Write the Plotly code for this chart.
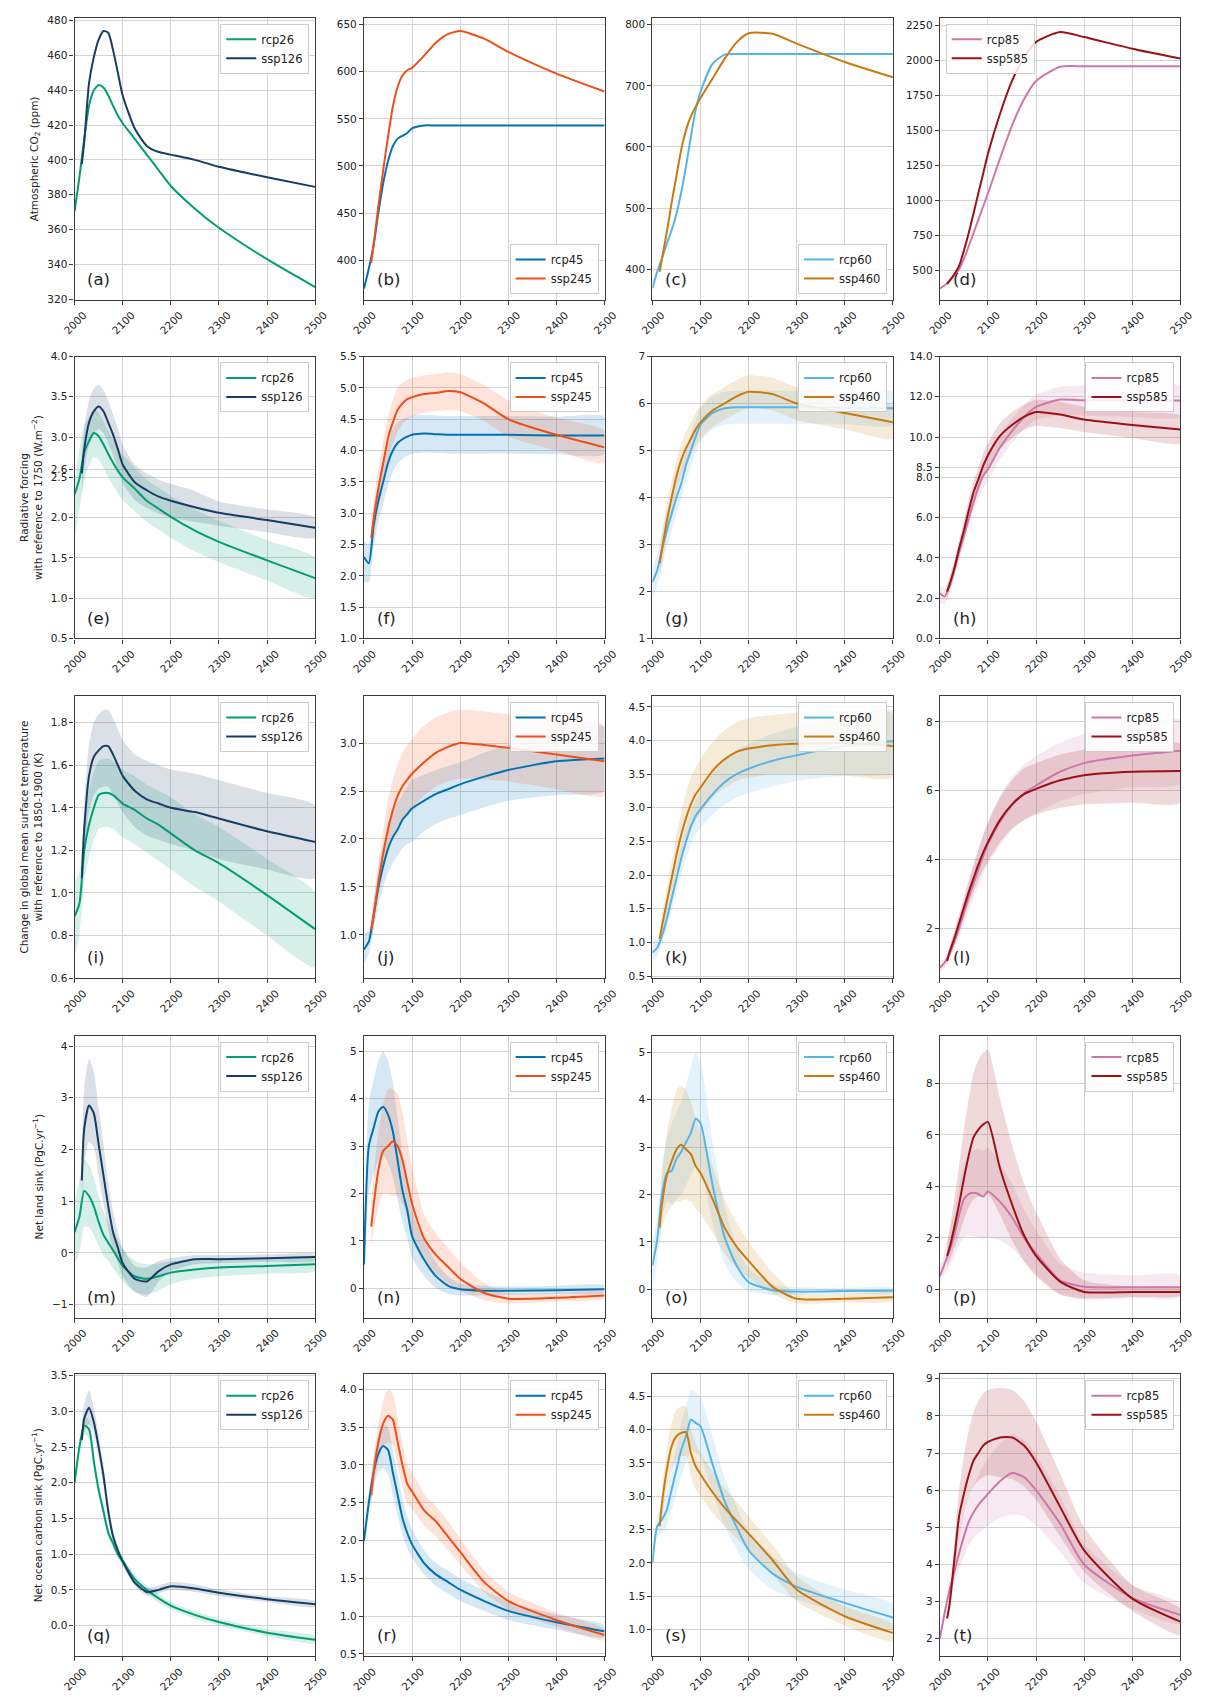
import plotly.graph_objects as go

# ---------------- time grids ----------------
YEARS = [2000, 2010, 2020, 2030, 2040, 2050, 2060, 2070, 2080, 2090, 2100,
         2125, 2150, 2175, 2200, 2250, 2300, 2400, 2500]
SSP_YEARS = [2015, 2020, 2030, 2040, 2050, 2060, 2070, 2080, 2090, 2100,
             2125, 2150, 2175, 2200, 2250, 2300, 2400, 2500]
X_TICKS = [2000, 2100, 2200, 2300, 2400, 2500]

# ---------------- row 1: atmospheric CO2 (ppm) ----------------
CO2_RCP26 = [370.5, 390, 412, 431, 440, 443, 441.5, 437, 431, 425.5, 421, 412, 403, 394, 385, 372, 361, 343, 327]
CO2_SSP126 = [397.5, 410, 444, 459, 469, 474, 473, 463, 450, 437, 418, 408, 404.5, 403, 400, 396, 390, 384.5]
CO2_RCP45 = [370, 391, 416, 451, 482, 505, 521, 529, 532, 535, 540, 543, 543, 543, 543, 543, 543, 543, 543]
CO2_SSP245 = [397, 416, 458, 496, 531, 563, 584, 596, 601.5, 604, 617, 631, 640, 643, 635, 621, 598, 579]
CO2_RCP60 = [369, 396, 418, 442, 464, 491, 526, 569, 617, 661, 690, 736, 751, 752, 752, 752, 752, 752, 752]
CO2_SSP460 = [396, 418, 461, 509, 553, 596, 628, 650, 666, 680, 712, 744, 771, 786, 785, 769, 739, 714]
CO2_RCP85 = [369, 392, 423, 460, 506, 580, 671, 765, 860, 955, 1050, 1298, 1534, 1723, 1853, 1955, 1958, 1958, 1958]
CO2_SSP585 = [400, 423, 470, 530, 640, 766, 905, 1050, 1190, 1333, 1617, 1853, 2019, 2132, 2203, 2167, 2084, 2014]

# ---------------- row 2: radiative forcing (W m-2) ----------------
RF_RCP26 = [2.29, 2.48, 2.81, 2.95, 3.05, 3.01, 2.91, 2.79, 2.68, 2.58, 2.50, 2.36, 2.21, 2.11, 2.01, 1.84, 1.70, 1.47, 1.25]
RF_RCP26_LO = [1.75, 2.1, 2.45, 2.65, 2.75, 2.72, 2.62, 2.5, 2.4, 2.3, 2.22, 2.08, 1.95, 1.85, 1.75, 1.58, 1.45, 1.22, 1.0]
RF_RCP26_HI = [2.45, 2.85, 3.15, 3.25, 3.35, 3.3, 3.2, 3.08, 2.97, 2.86, 2.78, 2.62, 2.47, 2.37, 2.27, 2.1, 1.96, 1.72, 1.5]
RF_SSP126 = [2.55, 2.85, 3.18, 3.32, 3.38, 3.32, 3.18, 3.03, 2.85, 2.66, 2.44, 2.34, 2.26, 2.21, 2.13, 2.06, 1.97, 1.875]
RF_SSP126_LO = [2.3, 2.6, 2.9, 3.05, 3.1, 3.05, 2.92, 2.78, 2.6, 2.43, 2.22, 2.12, 2.05, 2.0, 1.95, 1.9, 1.82, 1.75]
RF_SSP126_HI = [2.8, 3.1, 3.45, 3.6, 3.65, 3.58, 3.45, 3.28, 3.1, 2.9, 2.66, 2.55, 2.47, 2.42, 2.33, 2.2, 2.1, 2.0]
RF_RCP45 = [2.3, 2.2, 2.8, 3.2, 3.5, 3.8, 4.0, 4.12, 4.18, 4.22, 4.25, 4.27, 4.26, 4.25, 4.25, 4.25, 4.25, 4.24, 4.24]
RF_RCP45_LO = [1.9, 1.9, 2.45, 2.85, 3.15, 3.45, 3.65, 3.8, 3.87, 3.92, 3.95, 3.97, 3.96, 3.95, 3.95, 3.95, 3.95, 3.94, 3.94]
RF_RCP45_HI = [2.55, 2.5, 3.1, 3.5, 3.85, 4.15, 4.35, 4.45, 4.5, 4.53, 4.56, 4.57, 4.56, 4.55, 4.55, 4.55, 4.55, 4.54, 4.54]
RF_SSP245 = [2.6, 2.9, 3.4, 3.8, 4.2, 4.45, 4.65, 4.75, 4.82, 4.85, 4.9, 4.92, 4.95, 4.93, 4.75, 4.5, 4.25, 4.05]
RF_SSP245_LO = [2.35, 2.6, 3.05, 3.45, 3.85, 4.1, 4.3, 4.42, 4.5, 4.55, 4.6, 4.63, 4.65, 4.63, 4.47, 4.22, 4.0, 3.8]
RF_SSP245_HI = [2.85, 3.2, 3.7, 4.15, 4.55, 4.8, 5.0, 5.08, 5.13, 5.16, 5.2, 5.22, 5.25, 5.22, 5.04, 4.8, 4.52, 4.32]
RF_RCP60 = [2.2, 2.45, 2.9, 3.3, 3.65, 4.0, 4.3, 4.7, 5.0, 5.3, 5.55, 5.8, 5.9, 5.92, 5.92, 5.92, 5.92, 5.91, 5.9]
RF_RCP60_LO = [1.85, 2.1, 2.55, 2.95, 3.3, 3.65, 3.95, 4.35, 4.65, 4.95, 5.2, 5.45, 5.55, 5.57, 5.57, 5.57, 5.57, 5.56, 5.55]
RF_RCP60_HI = [2.55, 2.8, 3.25, 3.65, 4.0, 4.35, 4.65, 5.05, 5.35, 5.65, 5.9, 6.15, 6.25, 6.27, 6.27, 6.27, 6.27, 6.26, 6.25]
RF_SSP460 = [2.6, 2.9, 3.5, 4.0, 4.45, 4.8, 5.05, 5.25, 5.45, 5.6, 5.85, 6.0, 6.15, 6.25, 6.2, 6.0, 5.8, 5.6]
RF_SSP460_LO = [2.3, 2.55, 3.15, 3.65, 4.1, 4.45, 4.7, 4.9, 5.1, 5.25, 5.5, 5.65, 5.8, 5.9, 5.85, 5.65, 5.45, 5.25]
RF_SSP460_HI = [2.9, 3.25, 3.85, 4.35, 4.8, 5.15, 5.4, 5.6, 5.8, 5.95, 6.2, 6.35, 6.5, 6.6, 6.55, 6.35, 6.15, 5.95]
RF_RCP85 = [2.25, 2.08, 2.65, 3.39, 4.3, 5.1, 5.95, 6.76, 7.5, 8.08, 8.4, 9.48, 10.3, 11.0, 11.5, 11.86, 11.83, 11.82, 11.82]
RF_RCP85_LO = [1.8, 1.7, 2.3, 3.0, 3.9, 4.65, 5.45, 6.2, 6.9, 7.45, 7.8, 8.85, 9.7, 10.4, 10.85, 11.1, 11.05, 11.0, 11.0]
RF_RCP85_HI = [2.6, 2.5, 3.05, 3.8, 4.7, 5.55, 6.45, 7.3, 8.05, 8.7, 9.05, 10.1, 10.9, 11.6, 12.1, 12.5, 12.55, 12.55, 12.55]
RF_SSP585 = [2.33, 2.65, 3.47, 4.46, 5.36, 6.35, 7.26, 7.9, 8.57, 9.1, 10.06, 10.6, 11.0, 11.24, 11.12, 10.87, 10.6, 10.38]
RF_SSP585_LO = [2.0, 2.3, 3.1, 4.0, 4.85, 5.8, 6.65, 7.3, 7.95, 8.45, 9.4, 9.95, 10.35, 10.55, 10.45, 10.25, 9.95, 9.7]
RF_SSP585_HI = [2.65, 3.0, 3.85, 4.9, 5.85, 6.9, 7.85, 8.5, 9.2, 9.7, 10.7, 11.25, 11.6, 11.85, 11.75, 11.5, 11.25, 11.05]

# ---------------- row 3: temperature change (K) ----------------
T_RCP26 = [0.89, 0.95, 1.2, 1.32, 1.40, 1.46, 1.47, 1.47, 1.46, 1.44, 1.42, 1.39, 1.35, 1.32, 1.28, 1.2, 1.14, 0.99, 0.83]
T_RCP26_LO = [0.7, 0.8, 1.05, 1.17, 1.25, 1.3, 1.31, 1.31, 1.3, 1.28, 1.26, 1.23, 1.19, 1.15, 1.11, 1.03, 0.96, 0.8, 0.65]
T_RCP26_HI = [1.05, 1.1, 1.35, 1.48, 1.57, 1.62, 1.63, 1.63, 1.62, 1.6, 1.58, 1.55, 1.51, 1.48, 1.45, 1.37, 1.31, 1.16, 1.0]
T_SSP126 = [1.07, 1.3, 1.55, 1.64, 1.67, 1.69, 1.69, 1.65, 1.6, 1.55, 1.48, 1.44, 1.42, 1.40, 1.38, 1.35, 1.29, 1.24]
T_SSP126_LO = [0.95, 1.15, 1.38, 1.46, 1.49, 1.5, 1.5, 1.46, 1.42, 1.38, 1.31, 1.27, 1.25, 1.23, 1.2, 1.16, 1.11, 1.07]
T_SSP126_HI = [1.15, 1.42, 1.7, 1.8, 1.84, 1.86, 1.86, 1.82, 1.77, 1.72, 1.65, 1.62, 1.6, 1.58, 1.56, 1.53, 1.47, 1.41]
T_RCP45 = [0.85, 0.93, 1.2, 1.5, 1.72, 1.9, 2.02, 2.1, 2.2, 2.26, 2.32, 2.4, 2.47, 2.52, 2.57, 2.65, 2.72, 2.81, 2.84]
T_RCP45_LO = [0.7, 0.8, 1.05, 1.3, 1.5, 1.65, 1.75, 1.83, 1.9, 1.95, 1.97, 2.08, 2.16, 2.21, 2.25, 2.33, 2.4, 2.46, 2.5]
T_RCP45_HI = [1.0, 1.05, 1.35, 1.7, 1.95, 2.15, 2.28, 2.38, 2.46, 2.55, 2.62, 2.67, 2.72, 2.76, 2.8, 2.9, 2.98, 3.1, 3.17]
T_SSP245 = [1.05, 1.2, 1.55, 1.85, 2.1, 2.3, 2.45, 2.55, 2.62, 2.68, 2.8, 2.9, 2.96, 3.0, 2.98, 2.95, 2.88, 2.81]
T_SSP245_LO = [0.95, 1.08, 1.4, 1.65, 1.85, 2.0, 2.12, 2.2, 2.27, 2.32, 2.45, 2.55, 2.6, 2.63, 2.62, 2.6, 2.52, 2.45]
T_SSP245_HI = [1.15, 1.35, 1.75, 2.1, 2.4, 2.62, 2.78, 2.9, 2.98, 3.05, 3.18, 3.27, 3.32, 3.35, 3.33, 3.3, 3.25, 3.18]
T_RCP60 = [0.85, 0.92, 1.1, 1.35, 1.65, 1.95, 2.25, 2.5, 2.72, 2.88, 2.98, 3.2, 3.38, 3.5, 3.58, 3.7, 3.78, 3.92, 3.99]
T_RCP60_LO = [0.7, 0.8, 0.98, 1.2, 1.48, 1.75, 2.02, 2.25, 2.45, 2.6, 2.7, 2.9, 3.05, 3.15, 3.22, 3.32, 3.4, 3.48, 3.52]
T_RCP60_HI = [1.0, 1.05, 1.25, 1.5, 1.82, 2.15, 2.45, 2.72, 2.95, 3.12, 3.25, 3.5, 3.7, 3.85, 3.95, 4.1, 4.2, 4.35, 4.45]
T_SSP460 = [1.05, 1.25, 1.6, 1.95, 2.3, 2.6, 2.85, 3.05, 3.2, 3.3, 3.55, 3.72, 3.83, 3.88, 3.93, 3.95, 3.96, 3.92]
T_SSP460_LO = [0.95, 1.12, 1.42, 1.72, 2.02, 2.28, 2.5, 2.68, 2.82, 2.92, 3.15, 3.3, 3.4, 3.45, 3.5, 3.5, 3.48, 3.45]
T_SSP460_HI = [1.15, 1.4, 1.8, 2.2, 2.6, 2.95, 3.22, 3.45, 3.6, 3.72, 3.98, 4.15, 4.27, 4.33, 4.38, 4.41, 4.43, 4.4]
T_RCP85 = [0.85, 1.0, 1.25, 1.6, 2.0, 2.45, 2.9, 3.3, 3.7, 4.1, 4.45, 5.1, 5.58, 5.92, 6.15, 6.55, 6.8, 7.02, 7.16]
T_RCP85_LO = [0.7, 0.85, 1.1, 1.4, 1.75, 2.1, 2.5, 2.85, 3.2, 3.55, 3.85, 4.4, 4.85, 5.15, 5.35, 5.7, 5.9, 6.1, 6.2]
T_RCP85_HI = [1.0, 1.15, 1.45, 1.85, 2.3, 2.8, 3.3, 3.8, 4.25, 4.7, 5.1, 5.85, 6.4, 6.75, 7.0, 7.4, 7.65, 7.9, 8.05]
T_SSP585 = [1.05, 1.3, 1.7, 2.15, 2.6, 3.05, 3.45, 3.85, 4.2, 4.5, 5.15, 5.6, 5.9, 6.05, 6.3, 6.45, 6.55, 6.57]
T_SSP585_LO = [0.95, 1.15, 1.5, 1.9, 2.3, 2.7, 3.05, 3.4, 3.7, 3.95, 4.5, 4.9, 5.15, 5.3, 5.5, 5.6, 5.65, 5.65]
T_SSP585_HI = [1.15, 1.45, 1.9, 2.4, 2.9, 3.4, 3.85, 4.3, 4.7, 5.05, 5.8, 6.3, 6.65, 6.8, 7.05, 7.2, 7.3, 7.35]

# ---------------- row 4: net land sink (PgC/yr) ----------------
L_RCP26 = [0.4, 0.7, 1.2, 1.1, 0.9, 0.6, 0.35, 0.2, 0.05, -0.1, -0.25, -0.45, -0.5, -0.45, -0.38, -0.32, -0.28, -0.25, -0.22]
L_RCP26_LO = [-0.2, 0.0, 0.5, 0.5, 0.35, 0.15, -0.05, -0.15, -0.3, -0.42, -0.55, -0.75, -0.8, -0.72, -0.6, -0.5, -0.45, -0.4, -0.35]
L_RCP26_HI = [1.0, 1.4, 1.8, 1.7, 1.45, 1.1, 0.8, 0.6, 0.4, 0.25, 0.08, -0.15, -0.22, -0.2, -0.16, -0.14, -0.12, -0.1, -0.09]
L_SSP126 = [1.4, 2.4, 2.85, 2.7, 2.1, 1.5, 0.9, 0.4, 0.1, -0.2, -0.5, -0.55, -0.35, -0.22, -0.12, -0.12, -0.1, -0.08]
L_SSP126_LO = [0.8, 1.7, 2.15, 2.05, 1.5, 0.95, 0.45, 0.05, -0.2, -0.45, -0.75, -0.85, -0.55, -0.35, -0.22, -0.2, -0.17, -0.15]
L_SSP126_HI = [1.9, 3.2, 3.75, 3.5, 2.8, 2.1, 1.35, 0.8, 0.4, 0.1, -0.25, -0.28, -0.15, -0.1, -0.04, -0.04, -0.03, -0.02]
L_RCP45 = [0.5, 3.0, 3.38, 3.73, 3.83, 3.66, 3.31, 2.69, 2.06, 1.65, 1.1, 0.6, 0.25, 0.05, -0.02, -0.05, -0.05, -0.04, -0.02]
L_RCP45_LO = [0.1, 2.0, 2.4, 2.7, 2.8, 2.65, 2.35, 1.85, 1.4, 1.05, 0.65, 0.25, 0.0, -0.12, -0.15, -0.15, -0.14, -0.12, -0.1]
L_RCP45_HI = [1.0, 3.9, 4.4, 4.8, 5.0, 4.8, 4.35, 3.6, 2.85, 2.3, 1.65, 1.0, 0.55, 0.25, 0.1, 0.05, 0.04, 0.05, 0.06]
L_SSP245 = [1.3, 1.75, 2.5, 2.9, 3.0, 3.1, 3.0, 2.7, 2.24, 1.78, 1.05, 0.7, 0.45, 0.2, -0.1, -0.22, -0.2, -0.15]
L_SSP245_LO = [0.9, 1.2, 1.7, 2.0, 2.0, 1.95, 1.95, 1.8, 1.5, 1.15, 0.6, 0.3, 0.1, -0.05, -0.25, -0.32, -0.28, -0.22]
L_SSP245_HI = [1.8, 2.4, 3.3, 3.9, 4.2, 4.2, 4.1, 3.7, 3.1, 2.55, 1.55, 1.15, 0.85, 0.55, 0.1, -0.1, -0.1, -0.08]
L_RCP60 = [0.5, 1.05, 2.0, 2.45, 2.5, 2.75, 2.9, 3.1, 3.3, 3.6, 3.5, 2.2, 1.1, 0.5, 0.15, -0.02, -0.05, -0.04, -0.03]
L_RCP60_LO = [0.0, 0.6, 1.5, 1.85, 1.8, 1.9, 2.0, 2.2, 2.4, 2.6, 2.55, 1.4, 0.55, 0.15, -0.05, -0.12, -0.12, -0.1, -0.08]
L_RCP60_HI = [1.0, 1.5, 2.6, 3.2, 3.5, 3.75, 3.95, 4.3, 4.7, 5.0, 4.8, 3.1, 1.75, 0.9, 0.45, 0.1, 0.04, 0.03, 0.03]
L_SSP460 = [1.3, 1.8, 2.4, 2.7, 2.95, 3.05, 2.95, 2.85, 2.6, 2.45, 1.9, 1.3, 0.9, 0.6, 0.05, -0.2, -0.2, -0.17]
L_SSP460_LO = [0.9, 1.3, 1.6, 1.75, 1.85, 1.85, 1.9, 1.85, 1.7, 1.6, 1.2, 0.75, 0.45, 0.25, -0.1, -0.3, -0.28, -0.25]
L_SSP460_HI = [1.7, 2.4, 3.3, 3.8, 4.2, 4.3, 4.2, 3.95, 3.6, 3.3, 2.6, 1.9, 1.4, 1.0, 0.35, -0.08, -0.1, -0.08]
L_RCP85 = [0.5, 1.0, 1.5, 2.1, 2.9, 3.5, 3.7, 3.75, 3.7, 3.6, 3.8, 3.4, 2.8, 2.0, 1.4, 0.35, 0.1, 0.08, 0.08]
L_RCP85_LO = [0.2, 0.6, 0.9, 1.3, 1.7, 2.0, 2.1, 2.05, 2.0, 1.95, 2.0, 1.9, 1.6, 1.1, 0.6, -0.2, -0.4, -0.35, -0.3]
L_RCP85_HI = [0.9, 1.5, 2.2, 3.0, 4.0, 4.8, 5.2, 5.4, 5.45, 5.4, 5.5, 4.9, 4.1, 3.1, 2.3, 1.0, 0.65, 0.55, 0.55]
L_SSP585 = [1.3, 1.6, 2.4, 3.3, 4.3, 5.2, 5.9, 6.2, 6.4, 6.5, 4.7, 3.3, 2.1, 1.3, 0.3, -0.1, -0.1, -0.1]
L_SSP585_LO = [0.9, 1.1, 1.6, 2.1, 2.7, 3.2, 3.5, 3.6, 3.65, 3.7, 2.9, 1.9, 1.1, 0.5, -0.2, -0.35, -0.3, -0.25]
L_SSP585_HI = [1.8, 2.3, 3.5, 4.8, 6.2, 7.4, 8.4, 8.9, 9.2, 9.3, 7.4, 5.6, 4.1, 3.0, 1.2, 0.35, 0.1, 0.05]

# ---------------- row 5: net ocean carbon sink (PgC/yr) ----------------
O_RCP26 = [2.0, 2.5, 2.8, 2.75, 2.3, 1.9, 1.6, 1.3, 1.15, 1.0, 0.9, 0.65, 0.5, 0.38, 0.28, 0.15, 0.05, -0.1, -0.2]
O_RCP26_LO = [1.95, 2.42, 2.68, 2.62, 2.2, 1.8, 1.52, 1.22, 1.08, 0.94, 0.84, 0.59, 0.44, 0.32, 0.23, 0.1, 0.0, -0.15, -0.25]
O_RCP26_HI = [2.05, 2.58, 2.92, 2.88, 2.4, 2.0, 1.68, 1.38, 1.22, 1.06, 0.96, 0.71, 0.56, 0.44, 0.33, 0.2, 0.1, -0.05, -0.15]
O_SSP126 = [2.6, 2.9, 3.05, 2.85, 2.5, 2.1, 1.6, 1.25, 1.05, 0.9, 0.6, 0.47, 0.5, 0.55, 0.52, 0.46, 0.37, 0.3]
O_SSP126_LO = [2.45, 2.7, 2.82, 2.68, 2.35, 1.97, 1.5, 1.17, 0.98, 0.84, 0.55, 0.42, 0.45, 0.5, 0.47, 0.41, 0.33, 0.26]
O_SSP126_HI = [2.75, 3.1, 3.3, 3.05, 2.68, 2.25, 1.72, 1.34, 1.12, 0.96, 0.66, 0.53, 0.56, 0.61, 0.58, 0.51, 0.41, 0.34]
O_RCP45 = [2.0, 2.5, 2.9, 3.15, 3.25, 3.2, 2.9, 2.6, 2.3, 2.1, 1.95, 1.7, 1.55, 1.45, 1.35, 1.2, 1.07, 0.92, 0.8]
O_RCP45_LO = [1.9, 2.35, 2.7, 2.9, 2.95, 2.88, 2.6, 2.33, 2.07, 1.9, 1.77, 1.55, 1.4, 1.3, 1.2, 1.07, 0.95, 0.82, 0.72]
O_RCP45_HI = [2.1, 2.65, 3.1, 3.4, 3.55, 3.5, 3.2, 2.88, 2.55, 2.32, 2.15, 1.87, 1.7, 1.6, 1.5, 1.34, 1.19, 1.02, 0.88]
O_SSP245 = [2.6, 2.9, 3.3, 3.55, 3.65, 3.6, 3.3, 3.0, 2.75, 2.65, 2.4, 2.25, 2.05, 1.85, 1.45, 1.2, 0.95, 0.75]
O_SSP245_LO = [2.45, 2.7, 3.05, 3.25, 3.3, 3.25, 2.98, 2.72, 2.5, 2.42, 2.2, 2.05, 1.87, 1.68, 1.32, 1.09, 0.86, 0.68]
O_SSP245_HI = [2.75, 3.1, 3.55, 3.85, 4.0, 3.95, 3.62, 3.3, 3.0, 2.9, 2.62, 2.45, 2.25, 2.03, 1.6, 1.32, 1.05, 0.83]
O_RCP60 = [2.0, 2.55, 2.65, 2.8, 3.1, 3.4, 3.7, 3.9, 4.15, 4.1, 4.05, 3.48, 2.93, 2.54, 2.19, 1.84, 1.64, 1.4, 1.18]
O_RCP60_LO = [1.9, 2.4, 2.45, 2.55, 2.8, 3.05, 3.3, 3.5, 3.7, 3.65, 3.6, 3.08, 2.55, 2.2, 1.9, 1.6, 1.45, 1.22, 1.02]
O_RCP60_HI = [2.1, 2.7, 2.85, 3.05, 3.4, 3.75, 4.1, 4.35, 4.6, 4.55, 4.5, 3.9, 3.28, 2.85, 2.48, 2.1, 1.85, 1.6, 1.38]
O_SSP460 = [2.55, 2.9, 3.4, 3.75, 3.9, 3.95, 3.96, 3.65, 3.45, 3.33, 3.06, 2.83, 2.63, 2.44, 2.04, 1.6, 1.2, 0.95]
O_SSP460_LO = [2.4, 2.7, 3.1, 3.4, 3.55, 3.6, 3.6, 3.3, 3.1, 3.0, 2.75, 2.55, 2.37, 2.2, 1.83, 1.42, 1.06, 0.82]
O_SSP460_HI = [2.7, 3.1, 3.7, 4.1, 4.3, 4.35, 4.35, 4.0, 3.8, 3.65, 3.38, 3.12, 2.92, 2.7, 2.27, 1.8, 1.35, 1.08]
O_RCP85 = [2.0, 2.7, 3.3, 3.8, 4.3, 4.75, 5.15, 5.4, 5.6, 5.75, 5.9, 6.24, 6.46, 6.35, 6.0, 5.1, 4.0, 3.1, 2.64]
O_RCP85_LO = [1.9, 2.55, 3.05, 3.45, 3.85, 4.2, 4.5, 4.7, 4.85, 4.95, 5.05, 5.25, 5.35, 5.3, 5.05, 4.35, 3.5, 2.8, 2.4]
O_RCP85_HI = [2.1, 2.85, 3.55, 4.15, 4.75, 5.3, 5.8, 6.1, 6.4, 6.65, 6.85, 7.25, 7.5, 7.35, 6.95, 5.85, 4.55, 3.45, 2.95]
O_SSP585 = [2.55, 2.9, 4.1, 5.3, 5.9, 6.4, 6.8, 7.0, 7.2, 7.3, 7.42, 7.42, 7.2, 6.75, 5.55, 4.38, 3.08, 2.46]
O_SSP585_LO = [2.4, 2.7, 3.7, 4.7, 5.3, 5.8, 6.1, 6.25, 6.35, 6.4, 6.35, 6.3, 6.1, 5.75, 4.75, 3.8, 2.75, 2.1]
O_SSP585_HI = [2.7, 3.1, 4.6, 6.0, 6.9, 7.6, 8.1, 8.4, 8.6, 8.7, 8.75, 8.7, 8.4, 7.85, 6.45, 5.0, 3.45, 2.8]

# ---------------- y-axis ticks per panel ----------------
TICKS_A = [320, 340, 360, 380, 400, 420, 440, 460, 480]
TICKS_B = [400, 450, 500, 550, 600, 650]
TICKS_C = [400, 500, 600, 700, 800]
TICKS_D = [500, 750, 1000, 1250, 1500, 1750, 2000, 2250]
TICKS_E = [0.5, 1.0, 1.5, 2.0, 2.5, 2.6, 3.0, 3.5, 4.0]
TICKS_F = [1.0, 1.5, 2.0, 2.5, 3.0, 3.5, 4.0, 4.5, 5.0, 5.5]
TICKS_G = [1, 2, 3, 4, 5, 6, 7]
TICKS_H = [0.0, 2.0, 4.0, 6.0, 8.0, 8.5, 10.0, 12.0, 14.0]
TICKS_I = [0.6, 0.8, 1.0, 1.2, 1.4, 1.6, 1.8]
TICKS_J = [1.0, 1.5, 2.0, 2.5, 3.0]
TICKS_K = [0.5, 1.0, 1.5, 2.0, 2.5, 3.0, 3.5, 4.0, 4.5]
TICKS_L = [2, 4, 6, 8]
TICKS_M = [-1, 0, 1, 2, 3, 4]
TICKS_N = [0, 1, 2, 3, 4, 5]
TICKS_O = [0, 1, 2, 3, 4, 5]
TICKS_P = [0, 2, 4, 6, 8]
TICKS_Q = [0.0, 0.5, 1.0, 1.5, 2.0, 2.5, 3.0, 3.5]
TICKS_R = [0.5, 1.0, 1.5, 2.0, 2.5, 3.0, 3.5, 4.0]
TICKS_S = [1.0, 1.5, 2.0, 2.5, 3.0, 3.5, 4.0, 4.5]
TICKS_T = [2, 3, 4, 5, 6, 7, 8, 9]

# ---------------- styling ----------------
COLORS = {
    "rcp26": "#009E73", "ssp126": "#173c66",
    "rcp45": "#0072B2", "ssp245": "#f04e17",
    "rcp60": "#56B4E9", "ssp460": "#c87b10",
    "rcp85": "#CC79A7", "ssp585": "#9b1116",
}
PAIRS = [("rcp26", "ssp126"), ("rcp45", "ssp245"), ("rcp60", "ssp460"), ("rcp85", "ssp585")]

ROWS = [
    dict(lines=[(CO2_RCP26, CO2_SSP126), (CO2_RCP45, CO2_SSP245), (CO2_RCP60, CO2_SSP460), (CO2_RCP85, CO2_SSP585)],
         bands=None,
         ranges=[(319.6, 481.5), (358, 657), (350, 811), (287, 2304)],
         ticks=[TICKS_A, TICKS_B, TICKS_C, TICKS_D], fmt=["{:.0f}"] * 4,
         legend_pos=["tr", "br", "br", "tl"],
         title="Atmospheric CO<sub>2</sub> (ppm)"),
    dict(lines=[(RF_RCP26, RF_SSP126), (RF_RCP45, RF_SSP245), (RF_RCP60, RF_SSP460), (RF_RCP85, RF_SSP585)],
         bands=[((RF_RCP26_LO, RF_RCP26_HI), (RF_SSP126_LO, RF_SSP126_HI)),
                ((RF_RCP45_LO, RF_RCP45_HI), (RF_SSP245_LO, RF_SSP245_HI)),
                ((RF_RCP60_LO, RF_RCP60_HI), (RF_SSP460_LO, RF_SSP460_HI)),
                ((RF_RCP85_LO, RF_RCP85_HI), (RF_SSP585_LO, RF_SSP585_HI))],
         ranges=[(0.5, 4.0), (1.0, 5.5), (1.0, 7.0), (0.0, 14.0)],
         ticks=[TICKS_E, TICKS_F, TICKS_G, TICKS_H], fmt=["{:.1f}", "{:.1f}", "{:.0f}", "{:.1f}"],
         legend_pos=["tr"] * 4,
         title="Radiative forcing<br>with reference to 1750 (W.m<sup>\u22122</sup>)"),
    dict(lines=[(T_RCP26, T_SSP126), (T_RCP45, T_SSP245), (T_RCP60, T_SSP460), (T_RCP85, T_SSP585)],
         bands=[((T_RCP26_LO, T_RCP26_HI), (T_SSP126_LO, T_SSP126_HI)),
                ((T_RCP45_LO, T_RCP45_HI), (T_SSP245_LO, T_SSP245_HI)),
                ((T_RCP60_LO, T_RCP60_HI), (T_SSP460_LO, T_SSP460_HI)),
                ((T_RCP85_LO, T_RCP85_HI), (T_SSP585_LO, T_SSP585_HI))],
         ranges=[(0.6, 1.925), (0.55, 3.49), (0.47, 4.66), (0.55, 8.75)],
         ticks=[TICKS_I, TICKS_J, TICKS_K, TICKS_L], fmt=["{:.1f}", "{:.1f}", "{:.1f}", "{:.0f}"],
         legend_pos=["tr"] * 4,
         title="Change in global mean surface temperature<br>with reference to 1850-1900 (K)"),
    dict(lines=[(L_RCP26, L_SSP126), (L_RCP45, L_SSP245), (L_RCP60, L_SSP460), (L_RCP85, L_SSP585)],
         bands=[((L_RCP26_LO, L_RCP26_HI), (L_SSP126_LO, L_SSP126_HI)),
                ((L_RCP45_LO, L_RCP45_HI), (L_SSP245_LO, L_SSP245_HI)),
                ((L_RCP60_LO, L_RCP60_HI), (L_SSP460_LO, L_SSP460_HI)),
                ((L_RCP85_LO, L_RCP85_HI), (L_SSP585_LO, L_SSP585_HI))],
         ranges=[(-1.25, 4.2), (-0.62, 5.33), (-0.6, 5.35), (-1.1, 9.85)],
         ticks=[TICKS_M, TICKS_N, TICKS_O, TICKS_P], fmt=["{:.0f}"] * 4,
         legend_pos=["tr"] * 4,
         title="Net land sink (PgC.yr<sup>\u22121</sup>)"),
    dict(lines=[(O_RCP26, O_SSP126), (O_RCP45, O_SSP245), (O_RCP60, O_SSP460), (O_RCP85, O_SSP585)],
         bands=[((O_RCP26_LO, O_RCP26_HI), (O_SSP126_LO, O_SSP126_HI)),
                ((O_RCP45_LO, O_RCP45_HI), (O_SSP245_LO, O_SSP245_HI)),
                ((O_RCP60_LO, O_RCP60_HI), (O_SSP460_LO, O_SSP460_HI)),
                ((O_RCP85_LO, O_RCP85_HI), (O_SSP585_LO, O_SSP585_HI))],
         ranges=[(-0.43, 3.52), (0.47, 4.2), (0.6, 4.83), (1.53, 9.12)],
         ticks=[TICKS_Q, TICKS_R, TICKS_S, TICKS_T], fmt=["{:.1f}", "{:.1f}", "{:.1f}", "{:.0f}"],
         legend_pos=["tr"] * 4,
         title="Net ocean carbon sink (PgC.yr<sup>\u22121</sup>)"),
]

W, H = 1210, 1697
COL_LEFT = [63, 359, 654, 948]
COL_W = 246
ROW_TOP = [12, 353, 695, 1037, 1378]
ROW_H = 284
FONT = "DejaVu Sans, Liberation Sans, sans-serif"


def rgba(hx, a):
    hx = hx.lstrip("#")
    r, g, b = int(hx[0:2], 16), int(hx[2:4], 16), int(hx[4:6], 16)
    return f"rgba({r},{g},{b},{a})"


def fmt_tick(v, f):
    return f.format(v).replace("-", "\u2212")


fig = go.Figure()
layout = dict(width=W, height=H, margin=dict(l=0, r=0, t=0, b=0),
              paper_bgcolor="white", plot_bgcolor="white",
              font=dict(family=FONT, size=10, color="#222"), annotations=[])

letters = "abcdefghijklmnopqrst"
for r, row in enumerate(ROWS):
    for c in range(4):
        idx = r * 4 + c + 1
        xa = "x" if idx == 1 else f"x{idx}"
        ya = "y" if idx == 1 else f"y{idx}"
        lg = "legend" if idx == 1 else f"legend{idx}"
        x0 = COL_LEFT[c] / W
        x1 = (COL_LEFT[c] + COL_W) / W
        y1 = 1 - ROW_TOP[r] / H
        y0 = 1 - (ROW_TOP[r] + ROW_H) / H
        rcp_name, ssp_name = PAIRS[c]
        rcp_vals, ssp_vals = row["lines"][c]

        if row["bands"] is not None:
            (rlo, rhi), (slo, shi) = row["bands"][c]
            for yrs, lo, hi, name in ((YEARS, rlo, rhi, rcp_name), (SSP_YEARS, slo, shi, ssp_name)):
                fig.add_trace(go.Scatter(
                    x=list(yrs) + list(yrs)[::-1], y=list(hi) + list(lo)[::-1],
                    fill="toself", fillcolor=rgba(COLORS[name], 0.16),
                    line=dict(width=0, shape="spline", smoothing=0.6),
                    mode="lines", hoverinfo="skip", showlegend=False,
                    xaxis=xa, yaxis=ya))
        for yrs, vals, name in ((YEARS, rcp_vals, rcp_name), (SSP_YEARS, ssp_vals, ssp_name)):
            fig.add_trace(go.Scatter(
                x=yrs, y=vals, mode="lines", name=name,
                line=dict(color=COLORS[name], width=2, shape="spline", smoothing=0.6),
                legend=lg, xaxis=xa, yaxis=ya))

        axis_common = dict(showline=True, mirror=True, linecolor="#3c3c3c", linewidth=1.2,
                           ticks="outside", ticklen=4, tickcolor="#3c3c3c",
                           showgrid=True, gridcolor="#d3d3d3", gridwidth=1,
                           zeroline=False, tickfont=dict(size=10.5, color="#222"))
        layout["xaxis" if idx == 1 else f"xaxis{idx}"] = dict(
            domain=[x0, x1], anchor=ya, range=[2000, 2500],
            tickvals=X_TICKS, ticktext=[str(v) for v in X_TICKS], tickangle=-45,
            ticklabelshift=9, **axis_common)
        tv = row["ticks"][c]
        yax = dict(domain=[y0, y1], anchor=xa, range=list(row["ranges"][c]),
                   tickvals=tv, ticktext=[fmt_tick(v, row["fmt"][c]) for v in tv],
                   **axis_common)
        if c == 0:
            yax["title"] = dict(text=row["title"], font=dict(size=10.5, color="#222"), standoff=6)
        layout["yaxis" if idx == 1 else f"yaxis{idx}"] = yax

        pos = row["legend_pos"][c]
        dx, dy = 6 / W, 6 / H
        if pos == "tr":
            lx, ly, xan, yan = x1 - dx, y1 - dy, "right", "top"
        elif pos == "br":
            lx, ly, xan, yan = x1 - dx, y0 + dy, "right", "bottom"
        else:
            lx, ly, xan, yan = x0 + dx, y1 - dy, "left", "top"
        layout[lg] = dict(x=lx, y=ly, xanchor=xan, yanchor=yan, xref="paper", yref="paper",
                          bgcolor="rgba(255,255,255,0.85)", bordercolor="#cccccc", borderwidth=1,
                          font=dict(size=11.5, color="#222"), itemwidth=30, tracegroupgap=0,
                          traceorder="normal")

        layout["annotations"].append(dict(
            text=f"({letters[idx - 1]})", x=x0 + 11 / W, y=y0 + 9 / H,
            xref="paper", yref="paper", xanchor="left", yanchor="bottom",
            showarrow=False, font=dict(size=16.5, color="#222")))

fig.update_layout(**layout)
fig.write_html("out.html", config={"displayModeBar": False},
               post_script="document.body.style.margin='0';document.body.style.padding='0';")
